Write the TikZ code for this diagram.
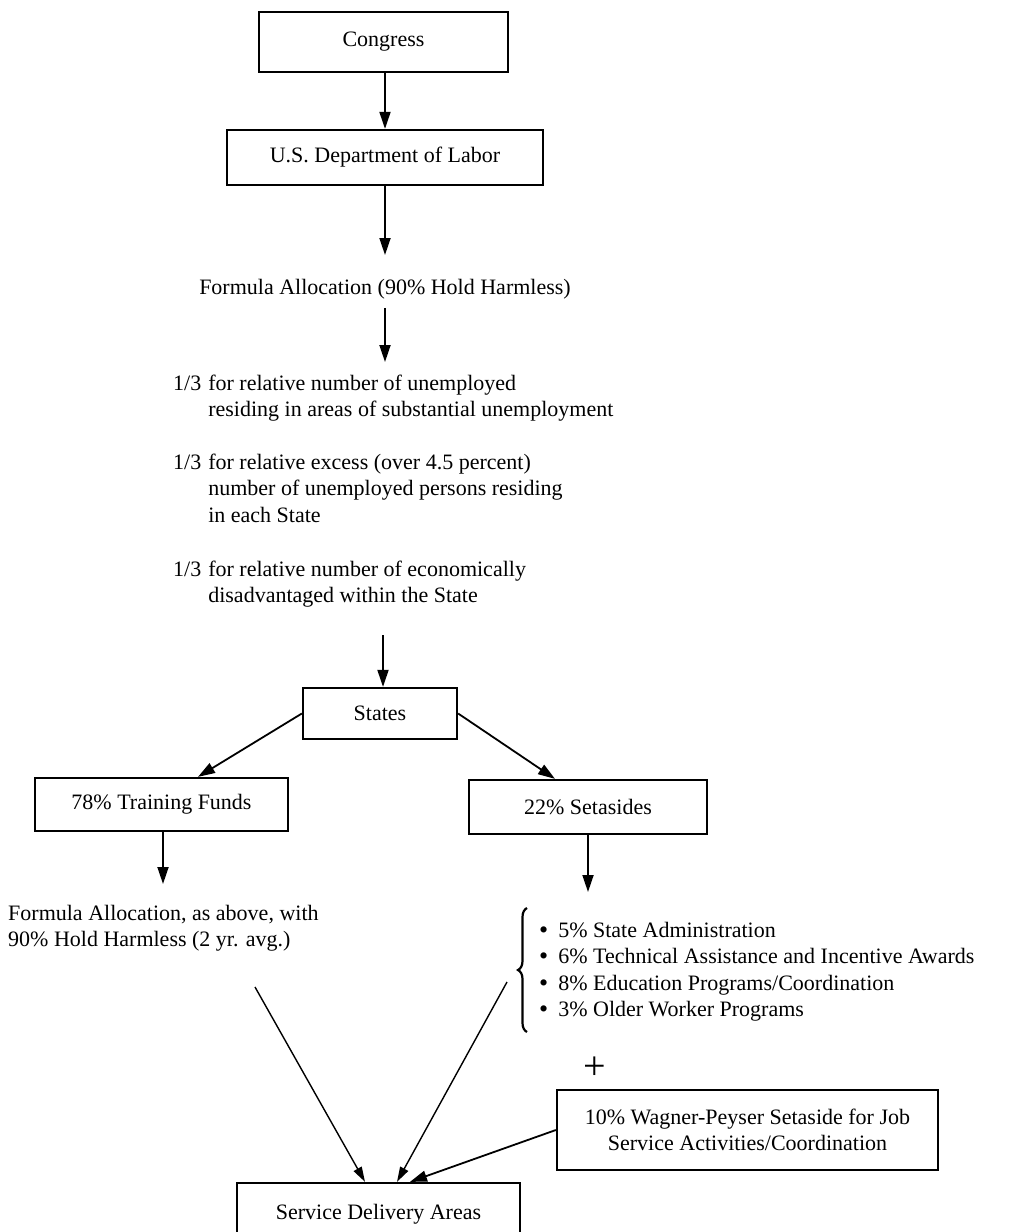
\documentclass[tikz,border=0pt]{standalone}
\usepackage{fontspec}
\setmainfont{Liberation Serif}
\usetikzlibrary{arrows.meta,decorations.pathreplacing}
\newcommand{\bigbul}{\smash{\raisebox{-1.2pt}{\fontsize{26pt}{26.5pt}\selectfont\textbullet}}}
\begin{document}
\begin{tikzpicture}[x=1pt,y=-1pt,
  every node/.style={font=\fontsize{22pt}{26.5pt}\selectfont},
  box/.style={draw,line width=2.3pt,inner sep=0pt,align=center},
  txt/.style={inner sep=0pt},
  arr/.style={line width=1.8pt,-{Triangle[length=17pt,width=11pt]}},
  conv/.style={line width=1.4pt,-{Triangle[length=15pt,width=9pt]}}]
\useasboundingbox (0,0) rectangle (1011,1232);
% boxes
\node[box,minimum width=249pt,minimum height=60pt] (congress) at (383.5,42) {Congress};
\node[box,minimum width=316pt,minimum height=55pt] (dol) at (385,157.5) {U.S. Department of Labor};
\node[box,minimum width=154pt,minimum height=51pt] (states) at (380,713.5) {States};
\node[box,minimum width=253pt,minimum height=53pt] (tf) at (161.5,804.5) {78\% Training Funds};
\node[box,minimum width=238pt,minimum height=54pt] (sa) at (588,807) {22\% Setasides};
\node[box,minimum width=381pt,minimum height=80pt] (wag) at (747.5,1130) {10\% Wagner-Peyser Setaside for Job\\Service Activities/Coordination};
\node[box,minimum width=283pt,minimum height=62pt] (sda) at (378.5,1214) {Service Delivery Areas};
% texts
\node[txt,anchor=base] (f1) at (385,294) {Formula Allocation (90\% Hold Harmless)};
\node[txt,anchor=base west] (p1) at (173,390) {\begin{tabular}[t]{@{}l@{\hspace{7pt}}l@{}}1/3&for relative number of unemployed\\&residing in areas of substantial unemployment\end{tabular}};
\node[txt,anchor=base west] (p2) at (173,469) {\begin{tabular}[t]{@{}l@{\hspace{7pt}}l@{}}1/3&for relative excess (over 4.5 percent)\\&number of unemployed persons residing\\&in each State\end{tabular}};
\node[txt,anchor=base west] (p3) at (173,576) {\begin{tabular}[t]{@{}l@{\hspace{7pt}}l@{}}1/3&for relative number of economically\\&disadvantaged within the State\end{tabular}};
\node[txt,anchor=base west] (f2) at (8,920) {\begin{tabular}[t]{@{}l@{}}Formula Allocation, as above, with\\90\% Hold Harmless (2 yr. avg.)\end{tabular}};
\node[txt,anchor=base west] (bl) at (539,937) {\begin{tabular}[t]{@{}l@{\hspace{10pt}}l@{}}\bigbul&5\% State Administration\\\bigbul&6\% Technical Assistance and Incentive Awards\\\bigbul&8\% Education Programs/Coordination\\\bigbul&3\% Older Worker Programs\end{tabular}};
\node[txt,font=\fontsize{40pt}{40pt}\selectfont] (plus) at (595,1068) {+};
% brace
\draw[line width=2.2pt,decorate,decoration={brace,amplitude=9pt}] (527,1032) -- (527,908);
% coordinates
\coordinate (e1) at (385,255);
\coordinate (e2) at (385,362);
\coordinate (s4) at (383,635);
\coordinate (e5) at (163,884);
\coordinate (e6) at (588,892);
\coordinate (l1) at (255,987);
\coordinate (r1) at (507,982);
% connectors
\draw[arr] (congress.south -| dol.north) -- (dol.north);
\draw[arr] (dol.south) -- (e1);
\draw[arr,shorten <=9pt] (f1.south) -- (e2);
\draw[arr] (s4) -- (s4 |- states.north);
\draw[arr] (states.west) -- ([xshift=36.5pt]tf.north);
\draw[arr] (states.east) -- ([xshift=-33pt]sa.north);
\draw[arr] (tf.south -| e5) -- (e5);
\draw[arr] (sa.south) -- (e6);
\draw[conv] (l1) -- ([xshift=-13.5pt]sda.north);
\draw[conv] (r1) -- ([xshift=18.5pt]sda.north);
\draw[arr] (wag.west) -- ([xshift=31.5pt]sda.north);
\end{tikzpicture}
\end{document}
